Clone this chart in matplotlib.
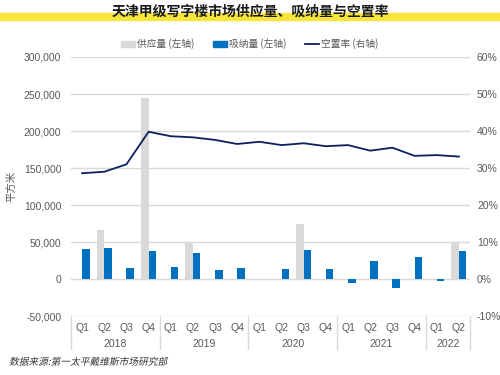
import matplotlib
matplotlib.use("Agg")
import matplotlib.pyplot as plt
import numpy as np
from matplotlib.patches import Patch, Rectangle
from matplotlib.lines import Line2D
from matplotlib.patheffects import AbstractPathEffect
from matplotlib.transforms import Affine2D
from matplotlib.ticker import FuncFormatter

plt.rcParams['font.family'] = ['Liberation Sans', 'Noto Sans CJK SC', 'DejaVu Sans']
CJK = ['Noto Sans CJK SC', 'DejaVu Sans']

years = ["2018", "2019", "2020", "2021", "2022"]
quarters = ["Q1", "Q2", "Q3", "Q4", "Q1", "Q2", "Q3", "Q4", "Q1", "Q2", "Q3", "Q4",
            "Q1", "Q2", "Q3", "Q4", "Q1", "Q2"]
year_spans = [4, 4, 4, 4, 2]
supply = [0, 66000, 0, 245000, 0, 50000, 0, 0, 0, 0, 75000, 0,
          0, 0, 0, 0, 0, 50000]
absorption = [40500, 41500, 14500, 37500, 16700, 35500, 12600, 14500, 500, 13500, 39200, 13500,
              -5000, 24000, -12000, 29700, -2500, 38200]
vacancy = [28.6, 29.0, 31.0, 39.8, 38.6, 38.3, 37.6, 36.5, 37.1, 36.2, 36.7, 35.9,
           36.2, 34.7, 35.5, 33.3, 33.5, 33.1]

GREY = "#d9d9d9"
BLUE = "#0070c0"
NAVY = "#0c1f5e"
TXT = "#595959"

fig = plt.figure(figsize=(5, 3.75), dpi=100)
ax = fig.add_axes([0.142, 0.157, 0.798, 0.691])
x = np.arange(len(quarters))
w = 0.34
ax.bar(x - w / 2, supply, w, color=GREY, zorder=2)
ax.bar(x + w / 2, absorption, w, color=BLUE, zorder=2)
ax.set_xlim(-0.5, len(quarters) - 0.5)
ax.set_ylim(-50000, 300000)
ax.set_yticks(np.arange(-50000, 300001, 50000))
ax.yaxis.set_major_formatter(FuncFormatter(lambda v, p: f"{int(v):,}"))
ax.grid(axis='y', color=GREY, lw=1, zorder=0)
ax.set_xticks([])
for s in ax.spines.values():
    s.set_visible(False)
ax.tick_params(axis='y', length=0, labelsize=7.5, labelcolor=TXT, pad=7)

ax2 = ax.twinx()
ax2.plot(x, vacancy, color=NAVY, lw=1.3, zorder=3)
ax2.set_ylim(-10, 60)
ax2.set_yticks(np.arange(-10, 61, 10))
ax2.yaxis.set_major_formatter(FuncFormatter(lambda v, p: f"{int(v)}%"))
for s in ax2.spines.values():
    s.set_visible(False)
ax2.tick_params(axis='y', length=0, labelsize=7.5, labelcolor=TXT, pad=5)

# category axis labels
trans = ax.get_xaxis_transform()
for i, q in enumerate(quarters):
    ax.text(i, -0.045, q, transform=trans, ha='center', va='center', fontsize=7.5, color=TXT, clip_on=False)
start = 0
bounds = [-0.5]
for y, n in zip(years, year_spans):
    ax.text(start + (n - 1) / 2, -0.108, y, transform=trans, ha='center', va='center', fontsize=7.5,
            color=TXT, clip_on=False)
    start += n
    bounds.append(start - 0.5)
for b in bounds:
    ax.add_line(Line2D([b, b], [0, -0.128], transform=trans, color=GREY, lw=1, clip_on=False))

ax.set_ylabel("平方米", fontsize=7.5, color=TXT, family=CJK)
ax.yaxis.set_label_coords(-0.137, 0.5)

# legend
handles = [Patch(color=GREY), Patch(color=BLUE), Line2D([], [], color=NAVY, lw=1.3)]
labels = ["供应量 (左轴)", "吸纳量 (左轴)", "空置率 (右轴)"]
leg = fig.legend(handles, labels, loc='center', bbox_to_anchor=(0.5, 1 - 44 / 375), ncol=3, frameon=False,
                 fontsize=7, handlelength=1.4, handleheight=0.6, handletextpad=0.25, columnspacing=1.9,
                 labelcolor=TXT)
for t in leg.get_texts():
    t.set_family(CJK)

# title with yellow band
fig.patches.append(Rectangle((0, 1 - 20 / 375), 1, 7 / 375, transform=fig.transFigure,
                             color="#f7e53b", zorder=0))
fig.text(0.5, 1 - 12 / 375, "天津甲级写字楼市场供应量、吸纳量与空置率", ha='center', va='center',
         fontsize=10, fontweight='bold', color='#1a1a1a', zorder=2, family=CJK)


class Skew(AbstractPathEffect):
    def __init__(self, deg=12):
        super().__init__()
        self.deg = deg

    def draw_path(self, renderer, gc, tpath, affine, rgbFace=None):
        renderer.draw_path(gc, tpath, Affine2D().skew_deg(self.deg, 0) + affine, rgbFace)


fig.text(9 / 500, 1 - 362 / 375, "数据来源:第一太平戴维斯市场研究部", ha='left', va='center',
         fontsize=7, color='#333333', path_effects=[Skew(12)], family=CJK)

fig.savefig("out.png", dpi=100)
